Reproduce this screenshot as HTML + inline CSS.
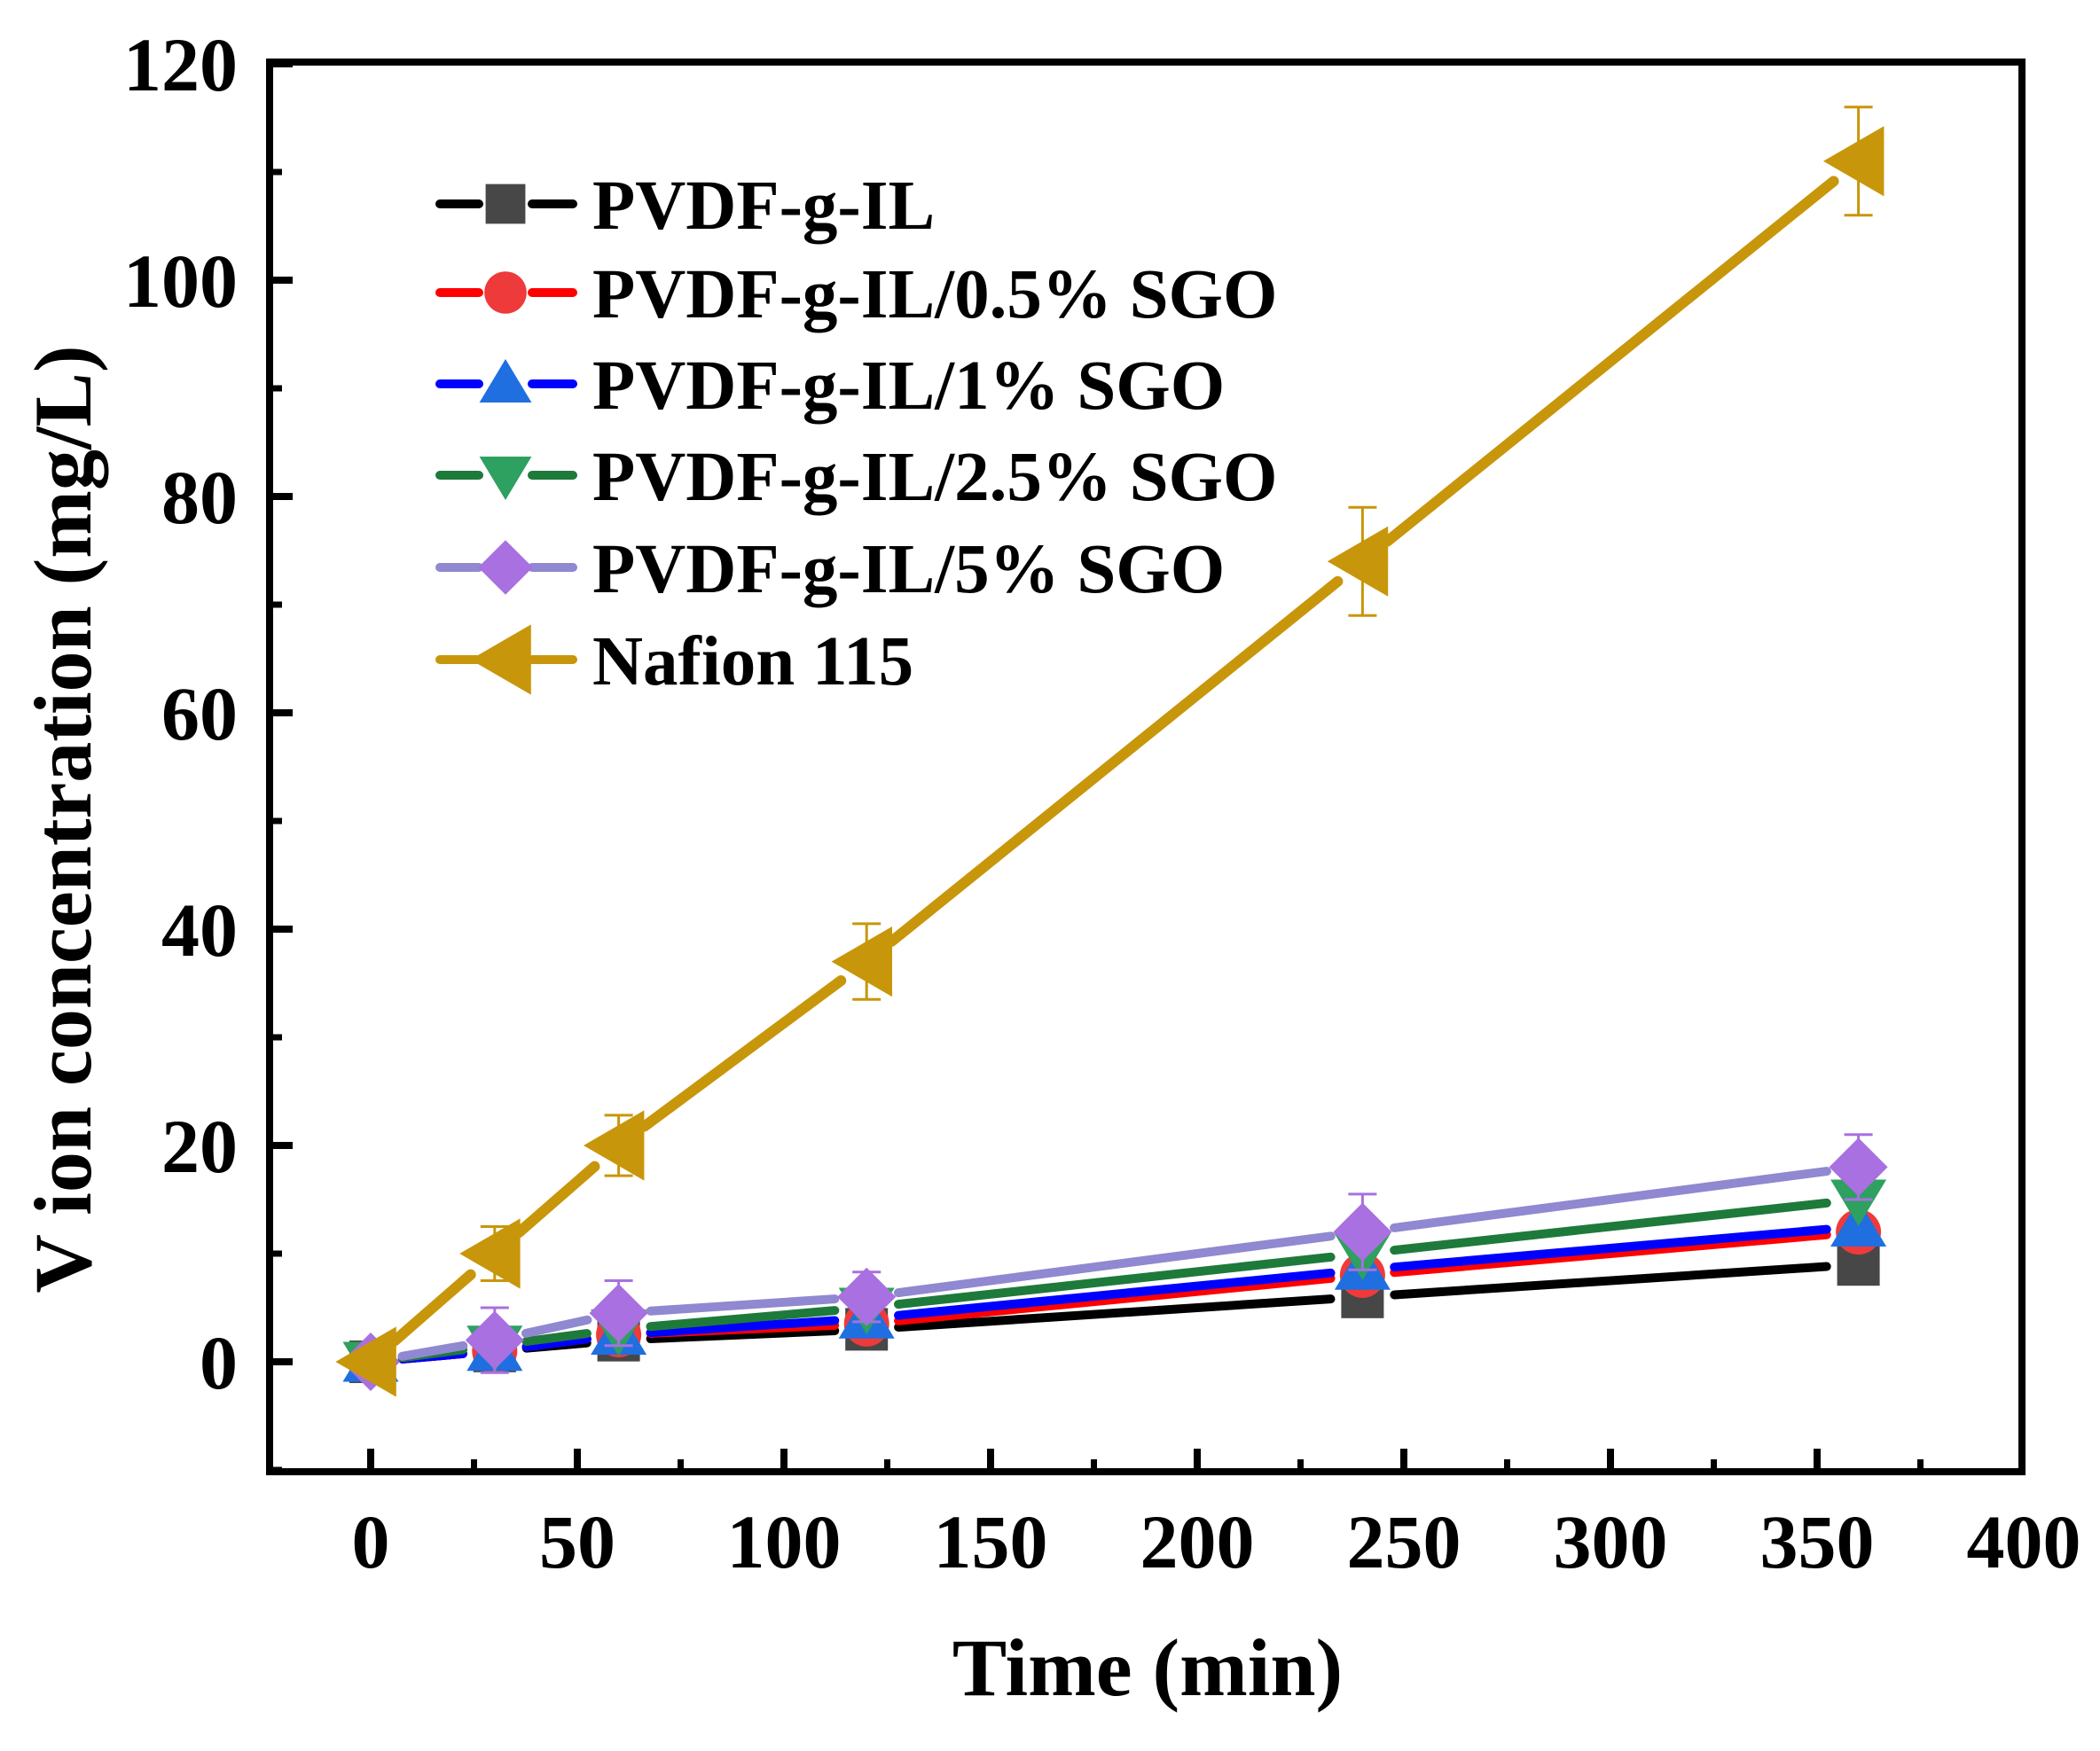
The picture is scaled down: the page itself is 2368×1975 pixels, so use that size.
<!DOCTYPE html>
<html><head><meta charset="utf-8"><style>
html,body{margin:0;padding:0;background:#fff}
svg text{font-family:"Liberation Serif",serif;font-weight:bold;fill:#000}
</style></head><body>
<svg id="chart" width="2368" height="1970" xmlns="http://www.w3.org/2000/svg">
<g id="plot"></g>
<rect x="304" y="70" width="1976" height="1590" fill="none" stroke="#000" stroke-width="8"/>
<g id="axes"></g>
<text x="1294" y="1912" font-size="92" text-anchor="middle">Time (min)</text>
<text transform="translate(102,924) rotate(-90)" font-size="92" text-anchor="middle">V ion concentration (mg/L)</text>
<g id="legend"></g>
</svg>
<script>
const times = [0, 30, 60, 120, 240, 360];
const seriesNames = ["PVDF-g-IL","PVDF-g-IL/0.5% SGO","PVDF-g-IL/1% SGO","PVDF-g-IL/2.5% SGO","PVDF-g-IL/5% SGO","Nafion 115"];
const sPVDF = [0, 1, 2, 3, 6, 9];
const sSGO05 = [0, 1, 2.5, 3.5, 8, 12];
const sSGO1 = [0, 1, 2.5, 4, 8.5, 12.5];
const sSGO25 = [0, 1.5, 3, 5, 10, 15];
const sSGO5 = [0, 2, 4.5, 6, 12, 18];
const sNafion = [0, 10, 20, 37, 74, 111];
const errNafion = [0, 2.5, 2.8, 3.5, 5, 5];
const errSGO5 = [0, 3, 3, 2.3, 3.5, 3];
const xTicks = [0, 50, 100, 150, 200, 250, 300, 350, 400];
const yTicks = [0, 20, 40, 60, 80, 100, 120];

const NS = "http://www.w3.org/2000/svg";
const X0 = 418, XS = 4.66, Y0 = 1536, YS = 12.2;
function xp(v){return X0 + v*XS;}
function yp(v){return Y0 - v*YS;}
function mk(tag, attrs, parent){const e=document.createElementNS(NS,tag);for(const k in attrs)e.setAttribute(k,attrs[k]);parent.appendChild(e);return e;}

const axes = document.getElementById('axes');
yTicks.forEach(t=>{
  const l = mk('line',{x1:304,x2:330,y1:yp(t),y2:yp(t),stroke:'#000','stroke-width':8},axes);
  
  
  const m = mk('line',{x1:304,x2:318,y1:yp(t-10),y2:yp(t-10),stroke:'#000','stroke-width':7},axes);
  
  
  const tx = mk('text',{x:268,y:yp(t)+30,'font-size':86,'text-anchor':'end'},axes);
  tx.textContent = t;
  
  
});
xTicks.forEach(t=>{
  if (t<400){
  const l = mk('line',{x1:xp(t),x2:xp(t),y1:1660,y2:1634,stroke:'#000','stroke-width':8},axes);
  
  
  const m = mk('line',{x1:xp(t+25),x2:xp(t+25),y1:1660,y2:1646,stroke:'#000','stroke-width':7},axes);
  
  
  }
  const tx = mk('text',{x:xp(t),y:1768,'font-size':86,'text-anchor':'middle'},axes);
  tx.textContent = t;
  
  
});

const styles = [
  {data:sPVDF, line:'#000000', fill:'#474747', shape:'square'},
  {data:sSGO05, line:'#ff0000', fill:'#ee3a3a', shape:'circle'},
  {data:sSGO1, line:'#0000ff', fill:'#1f6fe0', shape:'up'},
  {data:sSGO25, line:'#1e7a3a', fill:'#2ea060', shape:'down'},
  {data:sSGO5, line:'#9088d0', fill:'#a870e0', shape:'diamond'},
  {data:sNafion, line:'#c8960a', fill:'#c8960a', shape:'left'}
];
function marker(shape,x,y,fill,parent,r){
  let e;
  if(shape==='square') e=mk('rect',{x:x-r*0.8,y:y-r*0.8,width:r*1.6,height:r*1.6,fill},parent);
  else if(shape==='circle') e=mk('circle',{cx:x,cy:y,r:r*0.85,fill},parent);
  else if(shape==='up') e=mk('polygon',{points:`${x},${y-r} ${x-r*1.05},${y+r*0.75} ${x+r*1.05},${y+r*0.75}`,fill},parent);
  else if(shape==='down') e=mk('polygon',{points:`${x},${y+r} ${x-r*1.05},${y-r*0.75} ${x+r*1.05},${y-r*0.75}`,fill},parent);
  else if(shape==='diamond') e=mk('polygon',{points:`${x},${y-r*1.1} ${x+r*1.1},${y} ${x},${y+r*1.1} ${x-r*1.1},${y}`,fill},parent);
  else e=mk('polygon',{points:`${x-r*1.1},${y} ${x+r*0.8},${y-r*1.1} ${x+r*0.8},${y+r*1.1}`,fill},parent);
  return e;
}
const plot = document.getElementById('plot');
const gap = 36;
styles.forEach((s,si)=>{
  const g = mk('g',{},plot);
  
  
  for(let i=0;i<times.length-1;i++){
    const ax=xp(times[i]),ay=yp(s.data[i]),bx=xp(times[i+1]),by=yp(s.data[i+1]);
    const d=Math.hypot(bx-ax,by-ay),ux=(bx-ax)/d,uy=(by-ay)/d;
    const l = mk('line',{x1:ax+ux*gap,y1:ay+uy*gap,x2:bx-ux*gap,y2:by-uy*gap,stroke:s.line,'stroke-width':s.shape==='left'?12:10,'stroke-linecap':'round'},g);
    
    
  }
  times.forEach((t,i)=>{
    const m = marker(s.shape,xp(t),yp(s.data[i]),s.fill,g,s.shape==='left'?36:30);
    
    
    const err = s.shape==='left'?errNafion:(s.shape==='diamond'?errSGO5:null);
    if(err && err[i]>0){
      const x=xp(t), col=s.shape==='left'?'#c8960a':'#a870e0';
      const eb = mk('path',{d:`M${x},${yp(s.data[i]-err[i])}V${yp(s.data[i]+err[i])}M${x-16},${yp(s.data[i]+err[i])}h32M${x-16},${yp(s.data[i]-err[i])}h32`,stroke:col,'stroke-width':3,fill:'none'},g);
      
      
    }
  });
});

const legend = document.getElementById('legend');
const ly = [230, 330, 433, 536, 640, 744];
styles.forEach((s,i)=>{
  const g = mk('g',{},legend);
  
  
  mk('line',{x1:496,x2:540,y1:ly[i],y2:ly[i],stroke:s.line,'stroke-width':10,'stroke-linecap':'round'},g);
  mk('line',{x1:600,x2:646,y1:ly[i],y2:ly[i],stroke:s.line,'stroke-width':10,'stroke-linecap':'round'},g);
  marker(s.shape,570,ly[i],s.fill,g,s.shape==='left'?36:28);
  const tx = mk('text',{x:668,y:ly[i]+28,'font-size':79},g);
  tx.textContent = seriesNames[i];
});
</script>
</body></html>
